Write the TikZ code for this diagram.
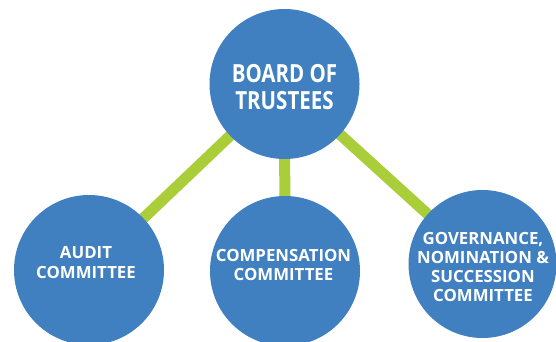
\documentclass[tikz,border=0pt]{standalone}
\usepackage{fontspec}
\setmainfont{Open Sans}
\newfontfamily\titlefont[FakeStretch=0.82]{Open Sans}
\definecolor{circblue}{RGB}{64,128,193}
\definecolor{linkgreen}{RGB}{169,206,58}
\begin{document}
\begin{tikzpicture}[x=1pt,y=-1pt,
  disc/.style={circle,fill=circblue,draw=none,inner sep=0pt,minimum size=#1},
  link/.style={draw=linkgreen,line width=11pt},
  small/.style={text=white,align=center,font=\fontsize{16.8}{19.2}\selectfont\bfseries},
  big/.style={text=white,align=center,font=\fontsize{25}{26.5}\selectfont\titlefont\bfseries}]
\useasboundingbox (0,0) rectangle (556,342);
\coordinate (cb) at (284.5,84);
\coordinate (ca) at (89,270);
\coordinate (cc) at (285,271);
\coordinate (cg) at (482.5,264);
\draw[link] (cb) -- (ca);
\draw[link] (cb) -- (cc);
\draw[link] (cb) -- (cg);
\node[disc=150pt] (board) at (cb) {};
\node[disc=150pt] (audit) at (ca) {};
\node[disc=150pt] (comp) at (cc) {};
\node[disc=148pt] (gov) at (cg) {};
\node[big] (tboard) at (284.5,87) {BOARD OF\\TRUSTEES};
\node[small] (taudit) at (86,262.5) {AUDIT\\COMMITTEE};
\node[small] (tcomp) at (283.5,265) {COMPENSATION\\COMMITTEE};
\node[small] (tgov) at (483,267) {GOVERNANCE,\\NOMINATION \&\\SUCCESSION\\COMMITTEE};
\end{tikzpicture}
\end{document}
